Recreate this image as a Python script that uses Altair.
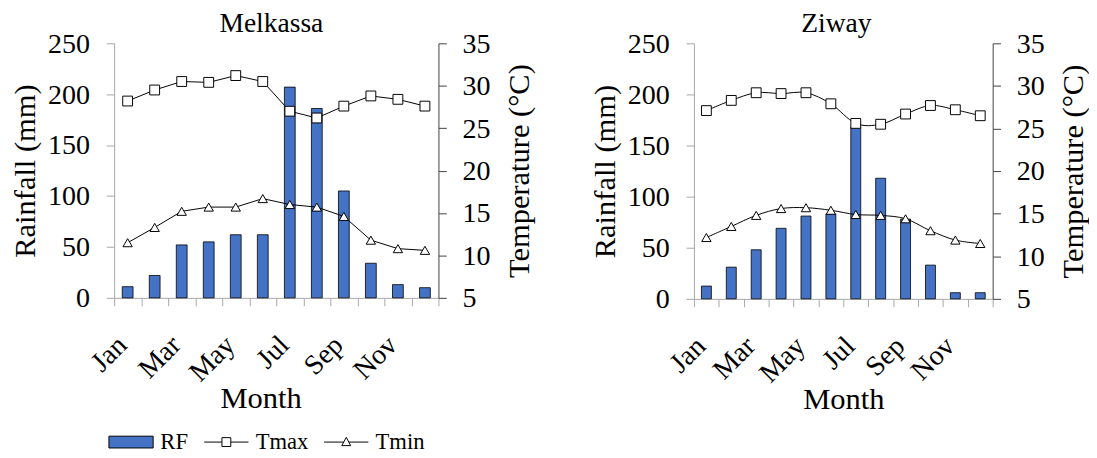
import altair as alt
import pandas as pd

months = ["Jan", "Feb", "Mar", "Apr", "May", "Jun", "Jul", "Aug", "Sep", "Oct", "Nov", "Dec"]
label_months = ["Jan", "Mar", "May", "Jul", "Sep", "Nov"]

mel_rf = [11, 22, 52, 55, 62, 62, 207, 186, 105, 34, 13, 10]
mel_tmax = [28.2, 29.5, 30.5, 30.4, 31.2, 30.5, 27.0, 26.2, 27.6, 28.8, 28.4, 27.6]
mel_tmin = [11.5, 13.3, 15.2, 15.7, 15.7, 16.7, 16.0, 15.7, 14.6, 11.8, 10.8, 10.6]

ziw_rf = [12.5, 31, 48, 69, 81, 83, 168, 118, 78, 33, 6, 6]
ziw_tmax = [27.1, 28.3, 29.2, 29.1, 29.2, 27.9, 25.6, 25.5, 26.7, 27.7, 27.2, 26.5]
ziw_tmin = [12.2, 13.5, 14.8, 15.6, 15.7, 15.4, 14.9, 14.8, 14.4, 13.0, 11.9, 11.5]

series = ["RF", "Tmax", "Tmin"]
series_fill = ["#4472C4", "white", "white"]
series_stroke = ["black", "black", "black"]
# legend symbols (unit coordinates, scaled by symbol size)
series_path = [
    "M-2.8,-1H4.7V1H-2.8Z",
    "M-2.8,0H0.2M1.7,0H4.7M0.2,-0.75H1.7V0.75H0.2Z",
    "M-2.8,0H0.52M1.38,0H4.7M0.95,-0.8L1.7,0.6H0.2Z",
]

FONT = "Liberation Serif"
FS = 28.5
TFS = 31
label_expr = "indexof(" + str(label_months) + ", datum.value) >= 0 ? datum.value : ''"


def panel(name, rf, tmax, tmin, width, height, interp, title_offset, title_dx,
          month_title_x, legend=False):
    df_rf = pd.DataFrame({"Month": months, "RF": rf})
    df_t = pd.DataFrame({
        "Month": months * 2,
        "var": ["Tmax"] * 12 + ["Tmin"] * 12,
        "T": tmax + tmin,
    })
    common = dict(labelFont=FONT, labelFontSize=FS, labelColor="black",
                  titleFont=FONT, titleFontSize=TFS, titleFontWeight="normal",
                  titleColor="black", grid=False)
    x = alt.X(
        "Month:N", sort=months,
        scale=alt.Scale(paddingInner=0, paddingOuter=0),
        axis=alt.Axis(
            title="Month", tickBand="extent", labelExpr=label_expr, labelAngle=315,
            labelAlign="right", labelBaseline="top", labelOffset=-16,
            tickSize=8, labelPadding=25, titlePadding=-3, titleX=month_title_x,
            domainColor="#a6a6a6", tickColor="#a6a6a6", **common,
        ),
    )
    y_rf = alt.Y(
        "RF:Q", scale=alt.Scale(domain=[0, 250], nice=False),
        axis=alt.Axis(
            title="Rainfall (mm)", values=[0, 50, 100, 150, 200, 250], tickSize=8,
            labelPadding=17, titlePadding=6, domainColor="#a6a6a6", tickColor="#a6a6a6",
            **common,
        ),
    )
    y_t = alt.Y(
        "T:Q", scale=alt.Scale(domain=[5, 35], nice=False),
        axis=alt.Axis(
            title="Temperature (°C)", orient="right", values=[5, 10, 15, 20, 25, 30, 35],
            tickSize=8, labelPadding=16, titlePadding=15, titleAngle=270, titleBaseline="top",
            domainColor="#404040", tickColor="#404040", **common,
        ),
    )
    bars = alt.Chart(df_rf).mark_bar(
        width=alt.RelativeBandSize(0.4), color="#4472C4", stroke="black", strokeWidth=0.8
    ).encode(x=x, y=y_rf)

    lines = alt.Chart(df_t).mark_line(
        color="black", strokeWidth=1, interpolate=interp
    ).encode(x=x, y=y_t, detail="var:N")
    sq = alt.Chart(df_t).transform_filter(alt.datum["var"] == "Tmax").mark_point(
        shape="square", size=100, filled=True, fill="white", stroke="black", strokeWidth=1, opacity=1
    ).encode(x=x, y=y_t)
    tri = alt.Chart(df_t).transform_filter(alt.datum["var"] == "Tmin").mark_point(
        shape="triangle-up", size=90, filled=True, fill="white", stroke="black", strokeWidth=1, opacity=1
    ).encode(x=x, y=y_t)
    temp = alt.layer(lines, sq, tri)

    layers = [bars, temp]
    if legend:
        df_leg = pd.DataFrame({"series": series})
        leg_props = dict(title=None, labelFont=FONT, labelFontSize=23, labelColor="black")
        leg = alt.Chart(df_leg).transform_filter("false").mark_point(
            filled=True, strokeWidth=1, opacity=1
        ).encode(
            fill=alt.Fill("series:N", scale=alt.Scale(domain=series, range=series_fill),
                          legend=alt.Legend(**leg_props)),
            stroke=alt.Stroke("series:N", scale=alt.Scale(domain=series, range=series_stroke),
                              legend=alt.Legend(**leg_props)),
            shape=alt.Shape("series:N", scale=alt.Scale(domain=series, range=series_path),
                            legend=alt.Legend(**leg_props)),
        )
        layers.append(leg)
    return alt.layer(*layers).resolve_scale(y="independent").properties(
        width=width, height=height,
        title=alt.TitleParams(name, offset=title_offset, dx=title_dx, fontSize=28, font=FONT,
                              fontWeight="normal", color="black", frame="group"),
    )


p1 = panel("Melkassa", mel_rf, mel_tmax, mel_tmin, 330, 259, "linear", -8, -5, 149, legend=True)
p2 = panel("Ziway", ziw_rf, ziw_tmax, ziw_tmin, 304, 260, "cardinal", -8, -7, 152)

chart = alt.hconcat(p1, p2, spacing=56).properties(
    padding={"left": 2, "top": -2, "right": 0, "bottom": 0}
).configure(
    font=FONT,
).configure_view(stroke=None).configure_legend(
    orient="bottom", direction="horizontal", labelFont=FONT, labelFontSize=23,
    labelColor="black", symbolSize=144, symbolStrokeColor="black", symbolStrokeWidth=1,
    labelOffset=24, columnPadding=13, offset=16,
)

chart.save("out.html", embed_options={"renderer": "svg", "actions": False})
